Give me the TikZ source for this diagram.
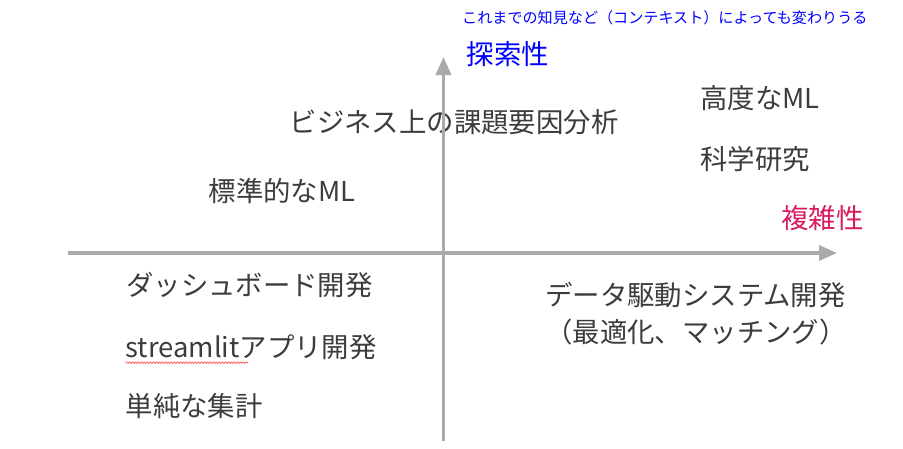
\documentclass[tikz,border=0pt]{standalone}
\usepackage{fontspec}
\setmainfont{Noto Sans CJK JP}
\usetikzlibrary{arrows.meta,decorations.pathmorphing}
\definecolor{txtgray}{RGB}{60,60,60}
\definecolor{axgray}{RGB}{170,170,170}
\definecolor{axblue}{RGB}{0,0,255}
\definecolor{axred}{RGB}{216,27,96}
\tikzset{
  lbl/.style={anchor=base west,inner sep=0pt,text=txtgray,font=\fontsize{27.4}{37.5}\selectfont},
  axlbl/.style={anchor=base west,inner sep=0pt,font=\fontsize{27.4}{37.5}\selectfont},
  note/.style={anchor=base west,inner sep=0pt,text=axblue,font=\fontsize{15.1}{18}\selectfont},
  axis/.style={draw=axgray,line width=3.5pt,-{Triangle[length=18pt,width=15pt]}},
  spell/.style={draw=red!75,line width=0.6pt,decorate,decoration={snake,amplitude=0.8pt,segment length=3pt}}
}
\begin{document}
\begin{tikzpicture}[x=1pt,y=-1pt]
\useasboundingbox (0,0) rectangle (903,448);
% labels
\node[note] (ctx) at (462,23.2) {これまでの知見など（コンテキスト）によっても変わりうる};
\node[axlbl,text=axblue] (tansaku) at (466.5,64.8) {探索性};
\node[axlbl,text=axred] (fukuzatsu) at (781,228.8) {複雑性};
\node[lbl] (kodo) at (700,108.8) {高度なML};
\node[lbl] (kagaku) at (700,169.3) {科学研究};
\node[lbl] (biz) at (289.5,132.8) {ビジネス上の課題要因分析};
\node[lbl] (hyojun) at (208.5,201.8) {標準的なML};
\node[lbl] (dash) at (126,295.8) {ダッシュボード開発};
\node[lbl] (data1) at (545,305.3) {データ駆動システム開発};
\node[lbl] (data2) at (545,342.8) {（最適化、マッチング）};
\node[lbl] (st) at (125.5,357.3) {streamlitアプリ開発};
\node[lbl] (tanjun) at (125.5,416.8) {単純な集計};
\draw[spell] ([yshift=-5.4pt]st.base west) -- ++(122.5,0);
% axes
\coordinate (xl) at (67.5,253);
\coordinate (xr) at (837,253);
\coordinate (yb) at (443.5,441);
\coordinate (yt) at (443.5,57);
\draw[axis] (xl) -- (xr);
\draw[axis] (yb) -- (yt);
\end{tikzpicture}
\end{document}
